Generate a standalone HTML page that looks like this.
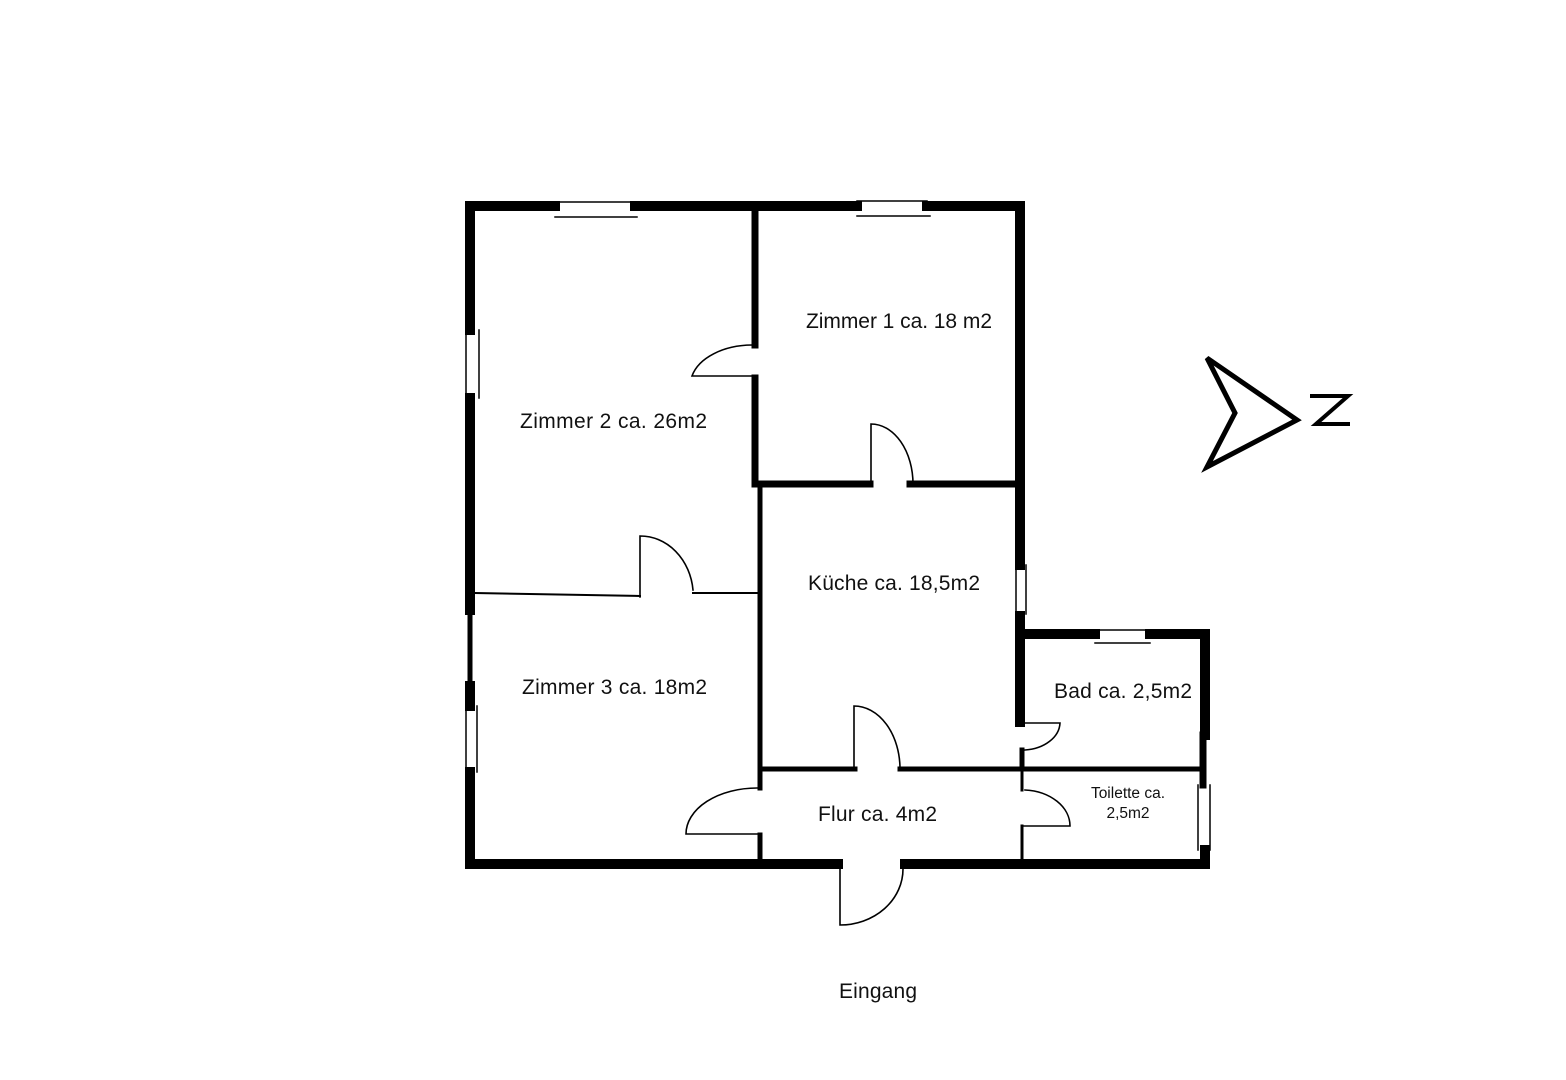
<!DOCTYPE html>
<html><head><meta charset="utf-8"><style>
html,body{margin:0;padding:0;background:#fff;}
svg{display:block}
text{font-family:"Liberation Sans",sans-serif;fill:#111;}
</style></head><body>
<svg width="1566" height="1080" viewBox="0 0 1566 1080" xmlns="http://www.w3.org/2000/svg">
<g stroke="#000" stroke-linecap="square" fill="none">
<g stroke-width="10">
<line x1="470" y1="206" x2="555" y2="206"/>
<line x1="635" y1="206" x2="857" y2="206"/>
<line x1="927" y1="206" x2="1020" y2="206"/>
<line x1="470" y1="206" x2="470" y2="330"/>
<line x1="470" y1="398" x2="470" y2="610"/>
<line x1="470" y1="686" x2="470" y2="706"/>
<line x1="470" y1="772" x2="470" y2="864"/>
<line x1="470" y1="864" x2="838" y2="864"/>
<line x1="905" y1="864" x2="1205" y2="864"/>
<line x1="1020" y1="206" x2="1020" y2="565"/>
<line x1="1020" y1="616" x2="1020" y2="722"/>
<line x1="1020" y1="634" x2="1095" y2="634"/>
<line x1="1150" y1="634" x2="1205" y2="634"/>
<line x1="1205" y1="634" x2="1205" y2="735"/>
<line x1="1205" y1="850" x2="1205" y2="864"/>
</g>
<line x1="470" y1="610" x2="470" y2="686" stroke-width="5"/>
<g stroke-width="7">
<line x1="755" y1="211" x2="755" y2="345"/>
<line x1="755" y1="378" x2="755" y2="484"/>
<line x1="755" y1="484" x2="870" y2="484"/>
<line x1="910" y1="484" x2="1020" y2="484"/>
<line x1="1203" y1="735" x2="1203" y2="785"/>
</g>
<g stroke-width="5">
<line x1="760" y1="487" x2="760" y2="788"/>
<line x1="760" y1="835" x2="760" y2="860"/>
<line x1="760" y1="769" x2="855" y2="769"/>
<line x1="900" y1="769" x2="1200" y2="769"/>
<line x1="1022" y1="750" x2="1022" y2="768"/>
</g>
<g stroke-width="3">
<line x1="1022" y1="769" x2="1022" y2="790"/>
<line x1="1022" y1="826" x2="1022" y2="860"/>
</g>
<g stroke-width="2">
<line x1="475" y1="593" x2="640" y2="596"/>
<line x1="693" y1="593" x2="757" y2="593"/>
</g>
<g stroke-width="1.5">
<line x1="555" y1="202" x2="635" y2="202"/><line x1="555" y1="217" x2="637" y2="217"/>
<line x1="857" y1="201" x2="927" y2="201"/><line x1="857" y1="216" x2="930" y2="216"/>
<line x1="466" y1="330" x2="466" y2="398"/><line x1="479" y1="330" x2="479" y2="398"/>
<line x1="466" y1="706" x2="466" y2="772"/><line x1="477" y1="706" x2="477" y2="772"/>
<line x1="1016" y1="565" x2="1016" y2="616"/><line x1="1026" y1="565" x2="1026" y2="614"/>
<line x1="1095" y1="630" x2="1150" y2="630"/><line x1="1095" y1="643" x2="1150" y2="643"/>
<line x1="1198" y1="785" x2="1198" y2="850"/><line x1="1210" y1="785" x2="1210" y2="850"/>
</g>
<g stroke-width="1.6">
<path d="M752 376 L692 376 A62 40 0 0 1 752 345"/>
<path d="M871 484 L871 424 A42 60 0 0 1 913 484"/>
<path d="M640 597 L640 536 A53 60 0 0 1 693 590"/>
<path d="M854 769 L854 706 A46 63 0 0 1 900 769"/>
<path d="M1022 723 L1060 723 A38 28 0 0 1 1025 750"/>
<path d="M1022 826 L1070 826 A48 36 0 0 0 1025 790"/>
<path d="M757 834 L686 834 A71 46 0 0 1 757 788"/>
<path d="M840 869 L840 925 A63 56 0 0 0 903 869"/>
</g>
<polygon points="1207,358 1297,420 1207,467 1235,413" stroke-width="5" stroke-linejoin="miter"/>
<polyline points="1312,396 1348,396 1316,424 1348,424" stroke-width="4"/>
</g>
<g font-size="21">
<text x="806" y="328" textLength="186">Zimmer 1 ca. 18 m2</text>
<text x="520" y="428" textLength="187">Zimmer 2 ca. 26m2</text>
<text x="808" y="590" textLength="172">Küche ca. 18,5m2</text>
<text x="522" y="694" textLength="185">Zimmer 3 ca. 18m2</text>
<text x="1054" y="698" textLength="138">Bad ca. 2,5m2</text>
<text x="818" y="821" textLength="119">Flur ca. 4m2</text>
<text x="839" y="998" textLength="78">Eingang</text>
</g>
<text x="1128" y="798" font-size="15.5" text-anchor="middle">Toilette ca.</text>
<text x="1128" y="818" font-size="15.5" text-anchor="middle">2,5m2</text>
</svg>
</body></html>
